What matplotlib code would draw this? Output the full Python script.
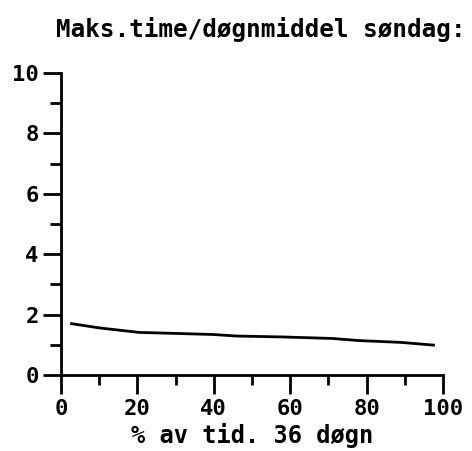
import matplotlib
matplotlib.use("Agg")
import matplotlib.pyplot as plt
from matplotlib.ticker import MultipleLocator

# kurve lest av bildet
pct_tid = [2.8, 10, 20.5, 32, 40, 46, 58, 71, 78, 89, 97.5]
forhold = [1.70, 1.56, 1.41, 1.37, 1.34, 1.29, 1.26, 1.21, 1.14, 1.08, 0.99]

tittel = "Maks.time/døgnmiddel søndag:"
xtekst = "% av tid. 36 døgn"

font = {"family": "DejaVu Sans Mono", "weight": "bold"}

fig = plt.figure(figsize=(4.72, 4.51), dpi=100)
ax = fig.add_axes([0.129, 0.1685, 0.8096, 0.6697])

ax.plot(pct_tid, forhold, color="black", linewidth=2)

ax.set_xlim(0, 100)
ax.set_ylim(0, 10)
ax.spines["top"].set_visible(False)
ax.spines["right"].set_visible(False)
ax.spines["left"].set_linewidth(2)
ax.spines["bottom"].set_linewidth(2)

ax.xaxis.set_major_locator(MultipleLocator(20))
ax.xaxis.set_minor_locator(MultipleLocator(10))
ax.yaxis.set_major_locator(MultipleLocator(2))
ax.yaxis.set_minor_locator(MultipleLocator(1))
ax.tick_params(axis="x", which="major", direction="out", length=14, width=2, pad=3)
ax.tick_params(axis="x", which="minor", direction="out", length=7, width=2)
ax.tick_params(axis="y", which="major", direction="out", length=13, width=2, pad=3)
ax.tick_params(axis="y", which="minor", direction="out", length=8, width=2)

for lab in ax.get_xticklabels() + ax.get_yticklabels():
    lab.set_fontfamily(font["family"])
    lab.set_fontweight("bold")
    lab.set_fontsize(16)

ax.set_xlabel(xtekst, fontsize=17, labelpad=3, **font)
fig.text(0.552, 0.935, tittel, ha="center", va="center", fontsize=17.5, **font)

fig.savefig("out.png", dpi=100)
